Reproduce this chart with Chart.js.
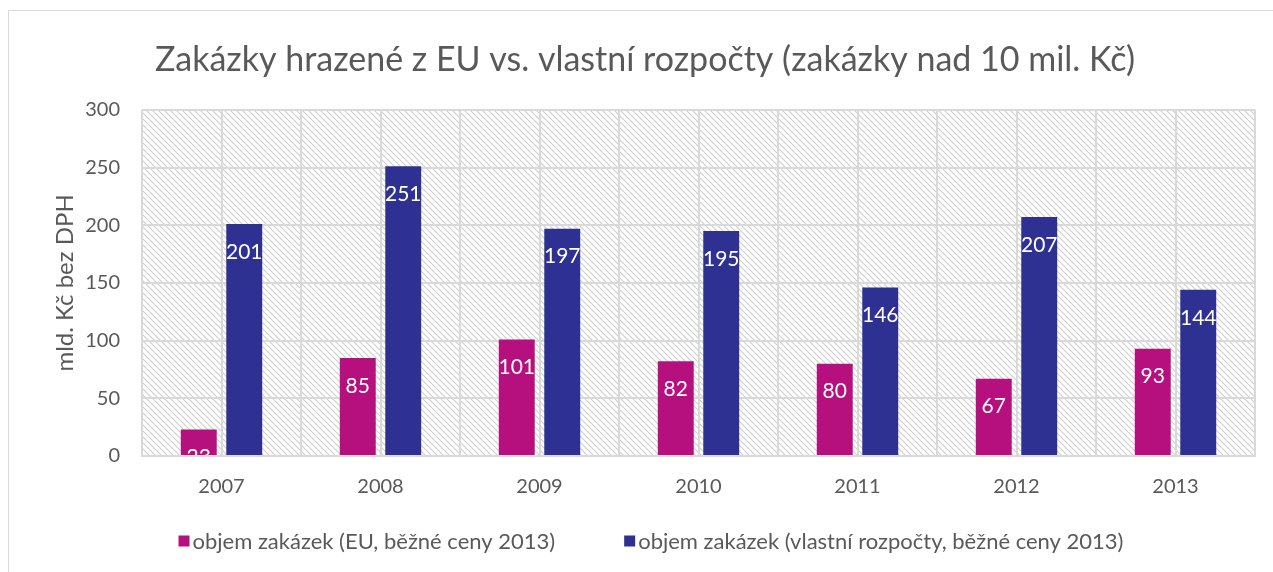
<!DOCTYPE html>
<html><head><meta charset="utf-8">
<script src="https://cdn.jsdelivr.net/npm/chart.js@4.4.1/dist/chart.umd.min.js"></script>
<style>
html,body{margin:0;padding:0;background:#fff;}
#wrap{position:absolute;left:0;top:0;width:1273px;height:572px;}
#frame{position:absolute;left:8px;top:10px;width:1300px;height:600px;border:1px solid #d9d9d9;box-sizing:border-box;}
canvas{position:absolute;left:0;top:0;}
</style></head><body>
<div id="wrap"><div id="frame"></div><canvas id="c" width="1273" height="572"></canvas></div>
<script>
const categories = ['2007','2008','2009','2010','2011','2012','2013'];
const euValues = [23, 85, 101, 82, 80, 67, 93];
const ownValues = [201, 251, 197, 195, 146, 207, 144];
const seriesNames = ['objem zakázek (EU, běžné ceny 2013)', 'objem zakázek (vlastní rozpočty, běžné ceny 2013)'];
const yTicks = [0, 50, 100, 150, 200, 250, 300];
const titleText = 'Zakázky hrazené z EU vs. vlastní rozpočty (zakázky nad 10 mil. Kč)';
const yTitle = 'mld. Kč bez DPH';

const FONT = 'Lato, "Open Sans", sans-serif';
const GRID = '#d9d9d9';
const TXT = '#595959';

function makePattern(ctx){
  const s = 6;
  const p = document.createElement('canvas');
  p.width = s; p.height = s;
  const g = p.getContext('2d');
  g.fillStyle = '#fff'; g.fillRect(0,0,s,s);
  g.strokeStyle = '#d0d0d0'; g.lineWidth = 1.2;
  g.beginPath();
  g.moveTo(0,0); g.lineTo(s,s);
  g.moveTo(-s/2, s/2); g.lineTo(s/2, s*1.5);
  g.moveTo(s/2, -s/2); g.lineTo(s*1.5, s/2);
  g.stroke();
  return ctx.createPattern(p, 'repeat');
}

const bgPlugin = {
  id: 'bgHatch',
  beforeDraw(chart){
    const {ctx, chartArea:a} = chart;
    ctx.save();
    ctx.fillStyle = makePattern(ctx);
    ctx.fillRect(a.left, a.top, a.right-a.left, a.bottom-a.top);
    ctx.restore();
  },
  beforeDatasetsDraw(chart){
    const {ctx, chartArea:a, scales} = chart;
    ctx.save();
    ctx.strokeStyle = GRID; ctx.lineWidth = 2;
    categories.forEach((c,i)=>{
      const x = Math.round(scales.x.getPixelForValue(i));
      ctx.beginPath(); ctx.moveTo(x, a.top); ctx.lineTo(x, a.bottom); ctx.stroke();
    });
    ctx.restore();
  }
};

const labelPlugin = {
  id: 'barLabels',
  afterDatasetsDraw(chart){
    const {ctx} = chart;
    ctx.save();
    ctx.font = '21px ' + FONT;
    ctx.fillStyle = '#ffffff';
    ctx.textAlign = 'center';
    ctx.textBaseline = 'middle';
    chart.data.datasets.forEach((ds, di)=>{
      const meta = chart.getDatasetMeta(di);
      meta.data.forEach((bar, i)=>{
        const w = bar.width;
        ctx.save();
        ctx.beginPath();
        ctx.rect(bar.x - w/2, bar.y, w, bar.base - bar.y);
        ctx.clip();
        ctx.fillText(String(ds.data[i]), bar.x, bar.y + 28);
        ctx.restore();
      });
    });
    ctx.restore();
  }
};

const legendPlugin = {
  id: 'customLegend',
  afterDraw(chart){
    const {ctx} = chart;
    const box = 11, textGap = 3, itemGap = 69, cy = 541, centerX = 651;
    ctx.save();
    ctx.font = '22px ' + FONT;
    ctx.textBaseline = 'middle';
    ctx.textAlign = 'left';
    const items = chart.data.datasets.map(ds => ({text: ds.label, color: ds.backgroundColor, w: ctx.measureText(ds.label).width}));
    const total = items.reduce((s,it)=>s + box + textGap + it.w, 0) + itemGap*(items.length-1);
    let x = centerX - total/2;
    items.forEach(it=>{
      ctx.fillStyle = it.color;
      ctx.fillRect(x, cy - box/2, box, box);
      x += box + textGap;
      ctx.fillStyle = TXT;
      ctx.fillText(it.text, x, cy + 1);
      x += it.w + itemGap;
    });
    ctx.restore();
  }
};

new Chart(document.getElementById('c'), {
  type: 'bar',
  data: {
    labels: categories,
    datasets: [
      {label: seriesNames[0], data: euValues, backgroundColor: '#b5107d'},
      {label: seriesNames[1], data: ownValues, backgroundColor: '#2e3192'}
    ]
  },
  options: {
    responsive: false,
    animation: false,
    devicePixelRatio: 1,
    categoryPercentage: 0.572,
    barPercentage: 0.79,
    layout: {padding: {top: 20, left: 35, right: 18, bottom: 54}},
    plugins: {
      title: {display: true, text: titleText, color: TXT, font: {family: FONT, size: 34, weight: 'normal'}, padding: {top: 20, bottom: 29}},
      legend: {display: false},
      tooltip: {enabled: false}
    },
    scales: {
      x: {
        afterFit(scale){ scale.height = 62; },
        grid: {color: GRID, lineWidth: 2, drawTicks: false, offset: true},
        border: {color: GRID, width: 2},
        ticks: {color: TXT, font: {family: FONT, size: 20}, padding: 19}
      },
      y: {
        min: 0, max: 300,
        afterFit(scale){ scale.width = 107; },
        afterBuildTicks(scale){ scale.ticks = yTicks.map(v=>({value:v})); },
        grid: {color: GRID, lineWidth: 2, drawTicks: false},
        border: {display: false},
        ticks: {color: TXT, font: {family: FONT, size: 20}, padding: 22},
        title: {display: true, text: yTitle, color: TXT, font: {family: FONT, size: 24}, padding: {top: 16, bottom: 0}}
      }
    }
  },
  plugins: [bgPlugin, labelPlugin, legendPlugin]
});
</script>
</body></html>
